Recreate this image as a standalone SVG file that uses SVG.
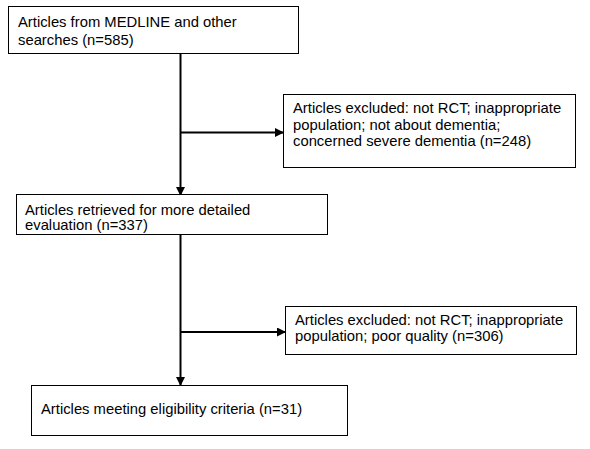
<svg xmlns="http://www.w3.org/2000/svg" width="590" height="449" viewBox="0 0 590 449">
<style>
.box{fill:#fff;stroke:#000;stroke-width:1}
.t{font-family:"Liberation Sans",Arial,sans-serif;font-size:14.8px;fill:#000}
.c{stroke:#000;stroke-width:2;fill:none}
</style>
<defs>
<marker id="ah" viewBox="0 0 10 10" refX="10" refY="5" markerWidth="4.5" markerHeight="4.5" orient="auto" markerUnits="strokeWidth">
<path d="M0,0 L10,5 L0,10 z" fill="#000"/>
</marker>
</defs>
<rect width="590" height="449" fill="#fff"/>
<g id="connectors">
<line class="c" x1="180.5" y1="54" x2="180.5" y2="196" marker-end="url(#ah)"/>
<line class="c" x1="180.5" y1="132.5" x2="284" y2="132.5" marker-end="url(#ah)"/>
<line class="c" x1="180.5" y1="234" x2="180.5" y2="386" marker-end="url(#ah)"/>
<line class="c" x1="180.5" y1="332" x2="286" y2="332" marker-end="url(#ah)"/>
</g>
<g id="n1">
<rect class="box" x="8.5" y="6.5" width="290" height="47"/>
<text class="t" x="18" y="27">Articles from MEDLINE and other</text>
<text class="t" x="18" y="45">searches (n=585)</text>
</g>
<g id="n2">
<rect class="box" x="283.5" y="94.5" width="292" height="73"/>
<text class="t" x="293" y="113">Articles excluded: not RCT; inappropriate</text>
<text class="t" x="293" y="129.5">population; not about dementia;</text>
<text class="t" x="293" y="146">concerned severe dementia (n=248)</text>
</g>
<g id="n3">
<rect class="box" x="16.5" y="194.5" width="311" height="40"/>
<text class="t" x="25" y="215">Articles retrieved for more detailed</text>
<text class="t" x="25" y="230">evaluation (n=337)</text>
</g>
<g id="n4">
<rect class="box" x="285.5" y="306.5" width="291" height="48"/>
<text class="t" x="295" y="325">Articles excluded: not RCT; inappropriate</text>
<text class="t" x="295" y="341">population; poor quality (n=306)</text>
</g>
<g id="n5">
<rect class="box" x="31.5" y="385.5" width="316" height="50"/>
<text class="t" x="41" y="414">Articles meeting eligibility criteria (n=31)</text>
</g>
</svg>
